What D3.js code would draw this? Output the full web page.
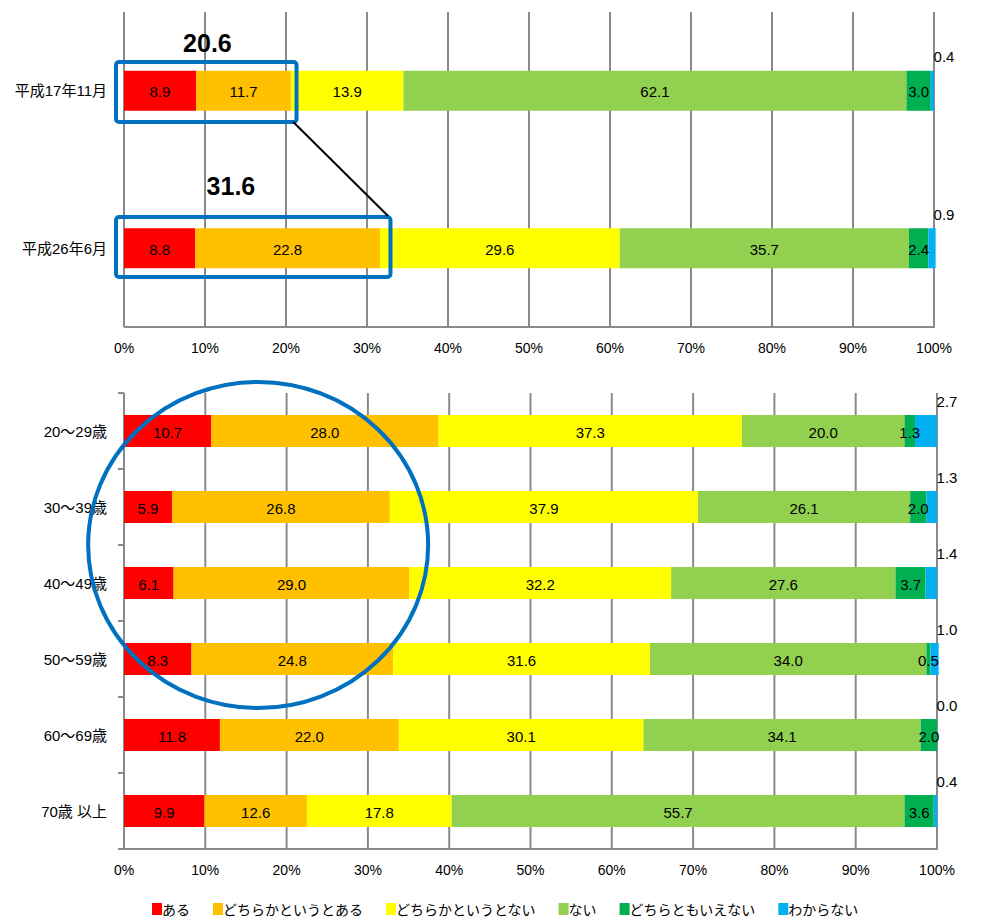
<!DOCTYPE html>
<html><head><meta charset="utf-8">
<script src="https://cdn.jsdelivr.net/npm/d3@7"></script>
<style>body{margin:0;background:#fff}svg{display:block}</style>
</head><body><svg id="c" width="981" height="918"></svg>
<script>
const seriesNames = ["ある","どちらかというとある","どちらかというとない","ない","どちらともいえない","わからない"];
const seriesColors = ["#FF0000","#FFC000","#FFFF00","#92D050","#00B050","#00B0F0"];
const surveyCategories = ["平成17年11月","平成26年6月"];
const surveyValues = [
  [8.9,11.7,13.9,62.1,3.0,0.4],
  [8.8,22.8,29.6,35.7,2.4,0.9]
];
const ageCategories = ["20～29歳","30～39歳","40～49歳","50～59歳","60～69歳","70歳 以上"];
const ageValues = [
  [10.7,28.0,37.3,20.0,1.3,2.7],
  [5.9,26.8,37.9,26.1,2.0,1.3],
  [6.1,29.0,32.2,27.6,3.7,1.4],
  [8.3,24.8,31.6,34.0,0.5,1.0],
  [11.8,22.0,30.1,34.1,2.0,0.0],
  [9.9,12.6,17.8,55.7,3.6,0.4]
];
const tickValues = [0,10,20,30,40,50,60,70,80,90,100];
const highlightTotals = ["20.6","31.6"];

const FONT = "'Liberation Sans', Arial, 'Noto Sans CJK JP', sans-serif";
const svg = d3.select("#c");
const GRID = "#8a8a8a";

function drawPanel(cats, vals, xr, yr, barH, leftTicks) {
  const g = svg.append("g");
  const x = d3.scaleLinear().domain([0,100]).range(xr);
  const y = d3.scaleBand().domain(cats).range(yr).padding(0);
  g.selectAll("line.grid").data(tickValues).join("line")
    .attr("x1", d => x(d)).attr("x2", d => x(d))
    .attr("y1", yr[0]).attr("y2", yr[1])
    .attr("stroke", GRID).attr("stroke-width", 2);
  g.append("line").attr("x1", x(0) - (leftTicks ? 6 : 0)).attr("x2", x(100) + 1)
    .attr("y1", yr[1]).attr("y2", yr[1]).attr("stroke", GRID).attr("stroke-width", 2);
  if (leftTicks) {
    const bounds = cats.map(c => y(c));
    g.selectAll("line.lt").data(bounds).join("line")
      .attr("x1", x(0) - 6).attr("x2", x(0)).attr("y1", d => d).attr("y2", d => d)
      .attr("stroke", GRID).attr("stroke-width", 2);
  }
  g.selectAll("text.tk").data(tickValues).join("text")
    .attr("x", d => x(d)).attr("y", yr[1] + 21)
    .attr("text-anchor", "middle").attr("dominant-baseline", "central")
    .attr("font-family", FONT).attr("font-size", 14).attr("fill", "#000")
    .text(d => d + "%");
  const barLayer = g.append("g"), labelLayer = g.append("g");
  cats.forEach((c, i) => {
    const cy = y(c) + y.bandwidth() / 2;
    const barTop = cy - barH / 2;
    let cum = 0;
    vals[i].forEach((v, j) => {
      const x0 = x(cum), x1 = x(cum + v);
      barLayer.append("rect").attr("x", x0).attr("y", barTop).attr("width", Math.max(0, x1 - x0))
        .attr("height", barH).attr("fill", seriesColors[j]);
      const last = j === vals[i].length - 1;
      labelLayer.append("text")
        .attr("x", last ? x(100) + 10 : (x0 + x1) / 2)
        .attr("y", last ? barTop - 14 : cy + 1)
        .attr("text-anchor", "middle").attr("dominant-baseline", "central")
        .attr("font-family", FONT).attr("font-size", 15).attr("fill", "#000")
        .text(v.toFixed(1));
      cum += v;
    });
    labelLayer.append("text").attr("x", x(0) - 17).attr("y", cy)
      .attr("text-anchor", "end").attr("dominant-baseline", "central")
      .attr("font-family", FONT).attr("font-size", 15).attr("fill", "#000")
      .text(c);
  });
  return {x, y};
}

const topPanel = drawPanel(surveyCategories, surveyValues, [124, 934], [12, 327], 40, false);
const botPanel = drawPanel(ageCategories, ageValues, [124, 937], [393, 849], 32, true);

const BLUE = "#0070C0";
const tx = topPanel.x;
svg.append("rect").attr("x", tx(0) - 8).attr("y", 62).attr("width", tx(21.3) - tx(0) + 8)
  .attr("height", 60).attr("rx", 3).attr("fill", "none").attr("stroke", BLUE).attr("stroke-width", 4);
svg.append("rect").attr("x", tx(0) - 8).attr("y", 217).attr("width", tx(32.9) - tx(0) + 8)
  .attr("height", 60).attr("rx", 3).attr("fill", "none").attr("stroke", BLUE).attr("stroke-width", 4);
svg.append("line").attr("x1", tx(20.9)).attr("y1", 122).attr("x2", tx(32.6)).attr("y2", 216)
  .attr("stroke", "#000").attr("stroke-width", 2);
svg.append("text").attr("x", tx(10.3)).attr("y", 52).attr("text-anchor", "middle")
  .attr("font-family", FONT).attr("font-size", 25).attr("font-weight", "bold").text(highlightTotals[0]);
svg.append("text").attr("x", tx(13.2)).attr("y", 195).attr("text-anchor", "middle")
  .attr("font-family", FONT).attr("font-size", 25).attr("font-weight", "bold").text(highlightTotals[1]);
svg.append("ellipse").attr("cx", botPanel.x(16.5)).attr("cy", 545).attr("rx", 170).attr("ry", 163)
  .attr("fill", "none").attr("stroke", BLUE).attr("stroke-width", 4);

const lg = svg.append("g");
let lx = 152;
seriesNames.forEach((n, i) => {
  lg.append("rect").attr("x", lx).attr("y", 903).attr("width", 10).attr("height", 12).attr("fill", seriesColors[i]);
  const t = lg.append("text").attr("x", lx + 10).attr("y", 909).attr("dominant-baseline", "central")
    .attr("font-family", "'Noto Sans CJK JP', sans-serif").attr("font-size", 14).attr("fill", "#000").text(n);
  lx += 10 + t.node().getComputedTextLength() + 23;
});
</script></body></html>
